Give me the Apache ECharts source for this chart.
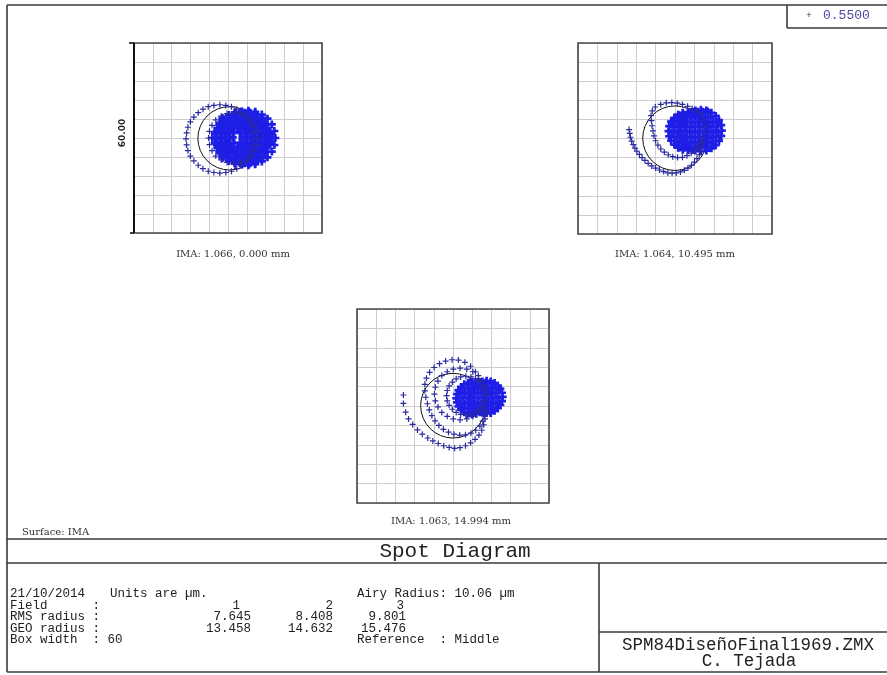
<!DOCTYPE html>
<html><head><meta charset="utf-8">
<script src="https://cdn.jsdelivr.net/npm/echarts@6/dist/echarts.min.js"></script>
<style>html,body{margin:0;padding:0;background:#fff}#c{width:887px;height:675px}</style>
</head><body><div id="c"></div>
<script>
// ---------- data ----------
const boxWidth = 60;            // µm, full width of each spot box
const gridStep = 6;             // µm per grid division
const wavelength = '0.5500';
const fieldNumbers = ['1', '2', '3'];
const imaX = ['1.066', '1.064', '1.063'];
const imaY = ['0.000', '10.495', '14.994'];
const rmsRadius = ['7.645', '8.408', '9.801'];
const geoRadius = ['13.458', '14.632', '15.476'];
const airyRadius = 10.06;
const airyCenters = [[0.5, -0.1], [0, 0.1], [0, 0.1]];

// Field 1 spot points (µm)
const f1RingA = [[8.2,-0.3],[8.0,1.6],[7.6,3.4],[6.8,5.1],[5.7,6.6],[4.3,8.0],[2.8,9.1],[1.1,9.9],[-0.7,10.3],[-2.6,10.5],[-4.5,10.3],[-6.3,9.9],[-8.0,9.1],[-9.5,8.0],[-10.9,6.6],[-12.0,5.1],[-12.8,3.4],[-13.2,1.6],[-13.4,-0.3],[-13.2,-2.2],[-12.8,-4.0],[-12.0,-5.7],[-10.9,-7.2],[-9.5,-8.6],[-8.0,-9.7],[-6.3,-10.5],[-4.5,-10.9],[-2.6,-11.1],[-0.7,-10.9],[1.1,-10.5],[2.8,-9.7],[4.3,-8.6],[5.7,-7.2],[6.8,-5.7],[7.6,-4.0],[8.0,-2.2]];
const f1RingB = [[9.8,0],[9.5,2.1],[8.7,4.0],[7.5,5.7],[5.8,6.9],[3.9,7.7],[1.8,8.0],[-0.3,7.7],[-2.2,6.9],[-3.9,5.7],[-5.1,4.0],[-5.9,2.1],[-6.2,0],[-5.9,-2.1],[-5.1,-4.0],[-3.9,-5.7],[-2.2,-6.9],[-0.3,-7.7],[1.8,-8.0],[3.9,-7.7],[5.8,-6.9],[7.5,-5.7],[8.7,-4.0],[9.5,-2.1]];
const f1RingC = [[12.9,0],[12.6,2.2],[11.8,4.2],[10.4,5.9],[8.7,7.3],[6.7,8.1],[4.5,8.4],[2.3,8.1],[0.3,7.3],[-1.4,5.9],[-2.8,4.2],[-3.6,2.2],[-3.9,0],[-3.6,-2.2],[-2.8,-4.2],[-1.4,-5.9],[0.3,-7.3],[2.3,-8.1],[4.5,-8.4],[6.7,-8.1],[8.7,-7.3],[10.4,-5.9],[11.8,-4.2],[12.6,-2.2]];
const f1RingD = [[15.1,0],[14.8,2.2],[14.0,4.3],[12.6,6.1],[10.8,7.4],[8.7,8.3],[6.5,8.6],[4.3,8.3],[2.2,7.4],[0.4,6.1],[-1.0,4.3],[-1.8,2.2],[-2.1,0],[-1.8,-2.2],[-1.0,-4.3],[0.4,-6.1],[2.2,-7.4],[4.3,-8.3],[6.5,-8.6],[8.7,-8.3],[10.8,-7.4],[12.6,-6.1],[14.0,-4.3],[14.8,-2.2]];
const f1RingE = [[12,0],[11.8,1.6],[11.2,3],[10.2,4.2],[9,5.2],[7.6,5.8],[6,6],[4.4,5.8],[3,5.2],[1.8,4.2],[0.8,3],[0.2,1.6],[0,0],[0.2,-1.6],[0.8,-3],[1.8,-4.2],[3,-5.2],[4.4,-5.8],[6,-6],[7.6,-5.8],[9,-5.2],[10.2,-4.2],[11.2,-3],[11.8,-1.6]];
const f1RingF = [[8.5,0.2],[8.0,1.95],[6.75,3.23],[5,3.7],[3.25,3.23],[2,1.95],[1.5,0.2],[2,-1.55],[3.25,-2.83],[5,-3.3],[6.75,-2.83],[8,-1.55]];
const f1RingG = [[13.5,0],[13,2],[11.5,3.5],[9.5,4],[7.5,3.5],[6,2],[5.5,0],[6,-2],[7.5,-3.5],[9.5,-4],[11.5,-3.5],[13,-2]];
// dense core of field 1, read row by row: [y, [x positions]]
const f1CoreRows = [
  [8.0, [2.2,3.8,5.4,7.0,8.6]],
  [6.4, [-1.8,-0.2,1.4,3.0,4.6,6.2,7.8,9.4,11.0]],
  [4.8, [-2.6,-1.0,0.6,2.2,3.8,5.4,7.0,8.6,10.2,11.8]],
  [3.2, [-3.4,-1.8,-0.2,1.4,3.0,4.6,6.2,7.8,9.4,11.0,12.6]],
  [1.6, [-4.2,-2.6,-1.0,0.6,3.8,5.4,7.0,8.6,10.2,11.8,13.4]],
  [0.0, [-5.0,-3.4,-1.8,-0.2,4.6,6.2,7.8,9.4,11.0,12.6,14.2]],
  [-1.6, [-4.2,-2.6,-1.0,0.6,3.8,5.4,7.0,8.6,10.2,11.8,13.4]],
  [-3.2, [-3.4,-1.8,-0.2,1.4,3.0,4.6,6.2,7.8,9.4,11.0,12.6]],
  [-4.8, [-2.6,-1.0,0.6,2.2,3.8,5.4,7.0,8.6,10.2,11.8]],
  [-6.4, [-1.8,-0.2,1.4,3.0,4.6,6.2,7.8,9.4,11.0]],
  [-8.0, [2.2,3.8,5.4,7.0,8.6]]
];

// Field 2 spot points (µm)
const f2Hook = [[-14.2,2.8],[-14.0,1.6],[-13.8,0.4],[-13.4,-0.8],[-12.9,-1.9],[-12.4,-3.0],[-11.8,-4.0],[-11.0,-5.0],[-10.2,-6.0],[-9.3,-6.9],[-8.3,-7.8],[-7.2,-8.6],[-6.0,-9.3],[-4.8,-9.9],[-3.5,-10.4],[-2.2,-10.8],[-0.9,-10.9],[0.4,-10.8],[1.7,-10.5],[2.9,-10.0],[4.0,-9.3],[5.1,-8.4],[6.0,-7.4],[6.8,-6.3],[7.5,-5.1],[8.0,-3.8],[8.3,-2.5],[8.5,-1.2]];
const f2Ring2 = [[8.0,7.8],[6.7,8.7],[5.3,9.4],[3.9,10.1],[2.3,10.7],[0.7,11.1],[-1.0,11.3],[-2.7,11.2],[-4.4,10.7],[-6.1,9.9],[-7.0,8.7],[-7.4,7.2],[-7.3,5.6],[-7.1,4.0],[-6.8,2.4],[-6.5,0.8],[-6.0,-0.7],[-5.3,-2.1],[-4.4,-3.3],[-3.3,-4.3],[-2.1,-5.1],[-0.7,-5.7],[0.8,-6.0],[2.3,-5.9],[3.7,-5.4],[5.0,-4.6],[6.2,-3.6],[7.2,-2.5],[8.0,-1.2],[8.6,0.3],[9.0,2.0],[9.1,3.8],[8.8,5.8]];
const f2Blob1 = [[10,2.3],[9.8,3.9],[9.2,5.3],[8.2,6.5],[7,7.5],[5.6,8.1],[4,8.3],[2.4,8.1],[1,7.5],[-0.2,6.5],[-1.2,5.3],[-1.8,3.9],[-2,2.3],[-1.8,0.7],[-1.2,-0.7],[-0.2,-1.9],[1,-2.9],[2.4,-3.5],[4,-3.7],[5.6,-3.5],[7,-2.9],[8.2,-1.9],[9.2,-0.7],[9.8,0.7]];
const f2Blob2 = [[14.5,2.5],[14.3,4.2],[13.6,5.75],[12.6,7.1],[11.25,8.1],[9.7,8.8],[8,9],[6.3,8.8],[4.75,8.1],[3.4,7.1],[2.4,5.75],[1.7,4.2],[1.5,2.5],[1.7,0.8],[2.4,-0.75],[3.4,-2.1],[4.75,-3.1],[6.3,-3.8],[8,-4],[9.7,-3.8],[11.25,-3.1],[12.6,-2.1],[13.6,-0.75],[14.3,0.8]];
const f2CoreRows = [
  [8.4, [5.4,7.0,8.6,10.2]],
  [6.8, [1.4,3.0,4.6,6.2,7.8,9.4,11.0]],
  [5.2, [-1.0,0.6,2.2,3.8,5.4,7.0,8.6,10.2,11.8,13.4]],
  [3.6, [-0.2,1.4,3.0,4.6,6.2,7.8,9.4,11.0,12.6]],
  [2.0, [-1.0,0.6,2.2,3.8,5.4,7.0,8.6,10.2,11.8,13.4]],
  [0.4, [-0.2,1.4,3.0,4.6,6.2,7.8,9.4,11.0,12.6]],
  [-1.2, [0.6,2.2,3.8,5.4,7.0,8.6,10.2,11.8]],
  [-2.8, [1.4,3.0,4.6,6.2,7.8,9.4,11.0]]
];

// Field 3 spot points (µm)
const f3Hook = [[-15.5,3.4],[-15.5,0.8],[-14.8,-1.9],[-13.9,-4.0],[-12.6,-5.7],[-11.1,-7.4],[-9.6,-8.7],[-7.9,-9.9],[-6.3,-10.8],[-4.6,-11.6],[-2.9,-12.3],[-1.2,-12.8],[0.5,-13.1],[2.2,-12.9],[3.9,-12.3],[5.5,-11.4],[6.9,-10.3],[8.1,-9.0],[9.0,-7.5],[9.6,-5.8],[10.0,-4.0],[10.2,-2.2]];
const f3RingB = [[8.0,8.5],[7.0,10.6],[5.5,12.3],[3.7,13.5],[1.7,14.2],[-0.3,14.3],[-2.3,13.9],[-4.2,13.1],[-5.9,11.9],[-7.3,10.4],[-8.3,8.6],[-8.8,6.7],[-8.8,4.7],[-8.5,2.7],[-8.0,0.7],[-7.4,-1.2],[-6.6,-3.0],[-5.6,-4.6],[-4.4,-6.0],[-3.0,-7.2],[-1.4,-8.1],[0.3,-8.7],[2.1,-9.0],[3.9,-8.9],[5.6,-8.4],[7.1,-7.5],[8.4,-6.2],[9.3,-4.7],[9.8,-3.0],[10.0,-1.3]];
const f3RingC = [[10.2,3.7],[9.9,5.8],[9.1,7.7],[7.9,9.4],[6.2,10.6],[4.3,11.4],[2.2,11.7],[0.1,11.4],[-1.8,10.6],[-3.5,9.4],[-4.7,7.7],[-5.5,5.8],[-5.8,3.7],[-5.5,1.6],[-4.7,-0.3],[-3.5,-2.0],[-1.8,-3.2],[0.1,-4.0],[2.2,-4.3],[4.3,-4.0],[6.2,-3.2],[7.9,-2.0],[9.1,-0.3],[9.9,1.6]];
const f3RingD = [[10,3.2],[9.8,4.8],[9.2,6.2],[8.2,7.4],[7,8.4],[5.6,9],[4,9.2],[2.4,9],[1,8.4],[-0.2,7.4],[-1.2,6.2],[-1.8,4.8],[-2,3.2],[-1.8,1.6],[-1.2,0.2],[-0.2,-1.0],[1,-2.0],[2.4,-2.6],[4,-2.8],[5.6,-2.6],[7,-2.0],[8.2,-1.0],[9.2,0.2],[9.8,1.6]];
const f3Blob1 = [[11,2.4],[10.8,3.7],[10.3,4.9],[9.5,5.9],[8.5,6.7],[7.3,7.2],[6,7.4],[4.7,7.2],[3.5,6.7],[2.5,5.9],[1.7,4.9],[1.2,3.7],[1,2.4],[1.2,1.1],[1.7,-0.1],[2.5,-1.1],[3.5,-1.9],[4.7,-2.4],[6,-2.6],[7.3,-2.4],[8.5,-1.9],[9.5,-1.1],[10.3,-0.1],[10.8,1.1]];
const f3Blob2 = [[15.5,2.8],[15.3,4.1],[14.8,5.3],[14.0,6.3],[13.0,7.1],[11.8,7.6],[10.5,7.8],[9.2,7.6],[8.0,7.1],[7.0,6.3],[6.2,5.3],[5.7,4.1],[5.5,2.8],[5.7,1.5],[6.2,0.3],[7.0,-0.7],[8.0,-1.5],[9.2,-2.0],[10.5,-2.2],[11.8,-2.0],[13.0,-1.5],[14.0,-0.7],[14.8,0.3],[15.3,1.5]];
const f3CoreRows = [
  [7.2, [5.4,7.0,8.6,10.2,11.8]],
  [5.6, [3.0,4.6,6.2,7.8,9.4,11.0,12.6,14.2]],
  [4.0, [2.2,3.8,5.4,7.0,8.6,10.2,11.8,13.4]],
  [2.4, [1.4,3.0,4.6,6.2,7.8,9.4,11.0,12.6,14.2]],
  [0.8, [2.2,3.8,5.4,7.0,8.6,10.2,11.8,13.4]],
  [-0.8, [3.0,4.6,6.2,7.8,9.4,11.0,12.6]],
  [-2.2, [5.4,7.0,10.2,11.8]]
];

// ---------- chart ----------
function rowsToPoints(rows) {
  const out = [];
  rows.forEach(r => r[1].forEach(x => out.push([x, r[0]])));
  return out;
}
const sparseByField = [
  [].concat(f1RingA, f1RingB),
  [].concat(f2Hook, f2Ring2),
  [].concat(f3Hook, f3RingB, f3RingC, f3RingD)
];
const denseByField = [
  [].concat(f1RingC, f1RingD, f1RingE, f1RingF, f1RingG, rowsToPoints(f1CoreRows)),
  [].concat(f2Blob1, f2Blob2, rowsToPoints(f2CoreRows)),
  [].concat(f3Blob1, f3Blob2, rowsToPoints(f3CoreRows))
];

const boxes = [
  {left: 134, top: 43, width: 188, height: 190, labelX: 233, labelY: 254},
  {left: 578, top: 43, width: 194, height: 191, labelX: 675, labelY: 254},
  {left: 357, top: 309, width: 192, height: 194, labelX: 451, labelY: 521}
];

const half = boxWidth / 2;
const thinCross = 'path://M2,0L3,0L3,2L5,2L5,3L3,3L3,5L2,5L2,3L0,3L0,2L2,2Z';
const boldCross = 'path://M3,0L6,0L6,3L9,3L9,6L6,6L6,9L3,9L3,6L0,6L0,3L3,3Z';
const frameStyle = {stroke: '#3a3a3a', lineWidth: 1.6};
const monoFont = '"Liberation Mono", "Courier New", monospace';
const serifFont = '"DejaVu Serif", serif';

function mkAxis(i) {
  return {
    gridIndex: i, type: 'value', min: -half, max: half, interval: gridStep,
    axisLine: {show: false}, axisTick: {show: false}, axisLabel: {show: false},
    splitLine: {show: true, lineStyle: {color: '#cdcdcd', width: 1}}
  };
}
function line(x1, y1, x2, y2, st) {
  return {type: 'line', silent: true, z: 20, shape: {x1, y1, x2, y2}, style: Object.assign({}, st || frameStyle)};
}
function txt(text, x, y, font, opts) {
  opts = opts || {};
  const align = opts.align || 'left';
  return {
    type: 'text', silent: true, z: 20, x, y,
    rotation: opts.rotation || 0,
    style: {
      text, font, fill: opts.fill || '#222',
      align, textAlign: align, verticalAlign: 'middle', textVerticalAlign: 'middle'
    }
  };
}

const grids = boxes.map(b => ({left: b.left, top: b.top, width: b.width, height: b.height, show: false, containLabel: false}));
const xAxes = boxes.map((b, i) => mkAxis(i));
const yAxes = boxes.map((b, i) => mkAxis(i));

const series = [];
boxes.forEach((b, i) => {
  series.push({
    type: 'custom', xAxisIndex: i, yAxisIndex: i, silent: true, z: 2,
    data: [[airyCenters[i][0], airyCenters[i][1], airyRadius]],
    renderItem: function (params, api) {
      const c = api.coord([api.value(0), api.value(1)]);
      const s = api.size([api.value(2), api.value(2)]);
      return {type: 'circle', shape: {cx: c[0], cy: c[1], r: (s[0] + s[1]) / 2},
              style: {fill: 'none', stroke: '#111', lineWidth: 1}};
    }
  });
  series.push({
    type: 'scatter', xAxisIndex: i, yAxisIndex: i, silent: true, z: 3,
    data: denseByField[i], symbol: boldCross, symbolSize: 8,
    itemStyle: {color: '#1e1ee6', opacity: 1}
  });
  series.push({
    type: 'scatter', xAxisIndex: i, yAxisIndex: i, silent: true, z: 4,
    data: sparseByField[i], symbol: thinCross, symbolSize: 6,
    itemStyle: {color: '#2a2aa0', opacity: 1}
  });
});

const graphics = [];
// box outlines
boxes.forEach(b => {
  graphics.push({type: 'rect', silent: true, z: 19,
    shape: {x: b.left, y: b.top, width: b.width, height: b.height},
    style: {fill: 'none', stroke: '#484848', lineWidth: 1.6}});
});
// scale bar on the first box
graphics.push(line(134, 43, 134, 233, {stroke: '#111', lineWidth: 2}));
graphics.push(line(129, 43, 134, 43, {stroke: '#111', lineWidth: 1.6}));
graphics.push(line(130, 233, 134, 233, {stroke: '#111', lineWidth: 1.6}));
graphics.push(txt(boxWidth.toFixed(2), 123, 133, 'bold 9px "DejaVu Sans", sans-serif', {align: 'center', rotation: Math.PI / 2, fill: '#222'}));

// field labels
boxes.forEach((b, i) => {
  graphics.push(txt('IMA: ' + imaX[i] + ', ' + imaY[i] + ' mm', b.labelX, b.labelY, '10px ' + serifFont, {align: 'center', fill: '#333'}));
});
graphics.push(txt('Surface: IMA', 22, 532, '10px ' + serifFont, {fill: '#333'}));

// outer frame
graphics.push(line(7, 5, 887, 5));
graphics.push(line(7, 5, 7, 672));
graphics.push(line(7, 672, 887, 672));
graphics.push(line(7, 539, 887, 539));
graphics.push(line(7, 563, 887, 563));
graphics.push(line(599, 563, 599, 672));
graphics.push(line(599, 632, 887, 632));
// wavelength legend box
graphics.push(line(787, 5, 787, 28));
graphics.push(line(787, 28, 887, 28));
graphics.push(txt('+', 809, 16, '9px ' + monoFont, {align: 'center', fill: '#333'}));
graphics.push(txt(wavelength, 823, 16, '13px ' + monoFont, {fill: '#4b4b9e'}));

// title and file info
graphics.push(txt('Spot Diagram', 455, 551, '21px ' + monoFont, {align: 'center', fill: '#222'}));
graphics.push(txt('SPM84DiseñoFinal1969.ZMX', 748, 645, '17.5px ' + monoFont, {align: 'center', fill: '#222'}));
graphics.push(txt('C. Tejada', 749, 661, '17.5px ' + monoFont, {align: 'center', fill: '#222'}));

// statistics block
const rowY = [594, 605.5, 617, 628.5, 640];
const f13 = '12.5px ' + monoFont;
const colRight = [251, 333, 406];
const fieldRight = [240, 333, 404];
graphics.push(txt('21/10/2014', 10, rowY[0], f13));
graphics.push(txt('Units are µm.', 110, rowY[0], f13));
graphics.push(txt('Airy Radius: ' + airyRadius.toFixed(2) + ' µm', 357, rowY[0], f13));
graphics.push(txt('Field      :', 10, rowY[1], f13));
graphics.push(txt('RMS radius :', 10, rowY[2], f13));
graphics.push(txt('GEO radius :', 10, rowY[3], f13));
graphics.push(txt('Box width  : ' + boxWidth, 10, rowY[4], f13));
graphics.push(txt('Reference  : Middle', 357, rowY[4], f13));
for (let i = 0; i < 3; i++) {
  graphics.push(txt(fieldNumbers[i], fieldRight[i], rowY[1], f13, {align: 'right'}));
  graphics.push(txt(rmsRadius[i], colRight[i], rowY[2], f13, {align: 'right'}));
  graphics.push(txt(geoRadius[i], colRight[i], rowY[3], f13, {align: 'right'}));
}

const chart = echarts.init(document.getElementById('c'), null, {renderer: 'canvas', width: 887, height: 675});
chart.setOption({
  animation: false,
  backgroundColor: '#ffffff',
  grid: grids,
  xAxis: xAxes,
  yAxis: yAxes,
  series: series,
  graphic: {elements: graphics}
});
</script>
</body></html>
